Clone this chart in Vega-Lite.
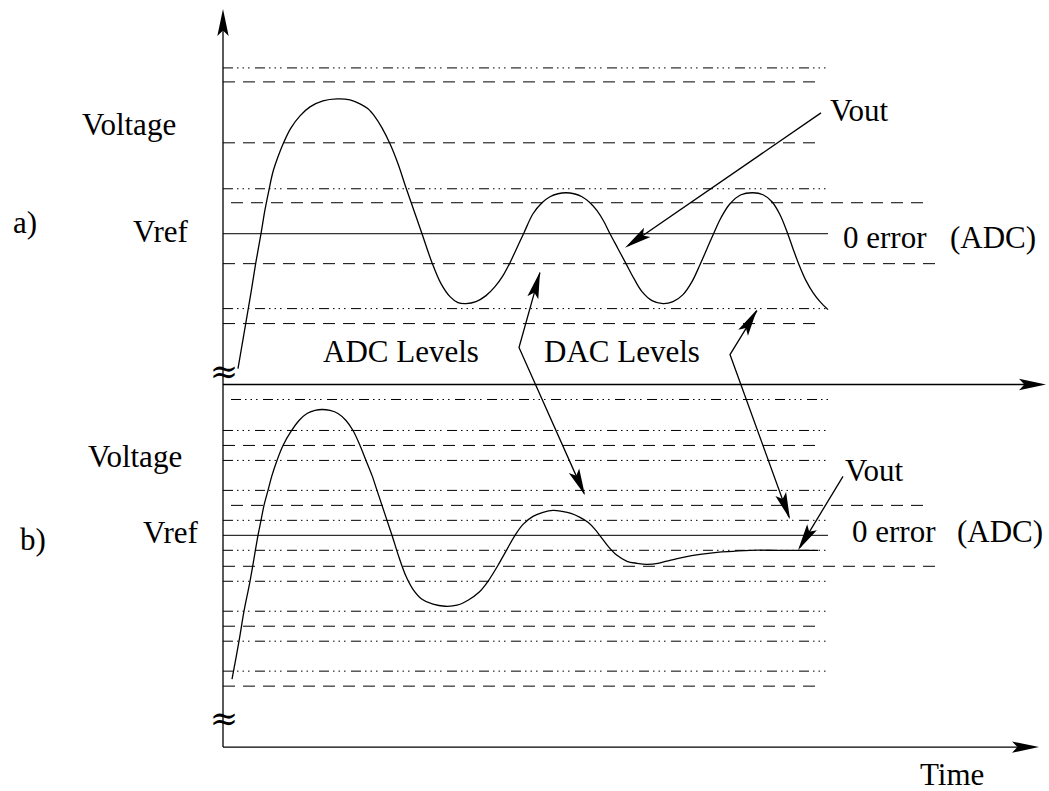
{
  "$schema": "https://vega.github.io/schema/vega-lite/v6.json",
  "width": 1049,
  "height": 791,
  "padding": 0,
  "autosize": {"type": "fit", "contains": "padding"},
  "background": "white",
  "config": {"view": {"stroke": null}},
  "datasets": {
    "levels": [
      {"y": 68, "x1": 223, "x2": 828, "kind": "dac"},
      {"y": 82, "x1": 223, "x2": 820, "kind": "adc"},
      {"y": 143, "x1": 223, "x2": 820, "kind": "adc"},
      {"y": 189, "x1": 223, "x2": 828, "kind": "dac"},
      {"y": 203, "x1": 231, "x2": 930, "kind": "adc"},
      {"y": 234, "x1": 223, "x2": 828, "kind": "ref"},
      {"y": 264, "x1": 223, "x2": 935, "kind": "adc"},
      {"y": 309, "x1": 223, "x2": 828, "kind": "dac"},
      {"y": 324, "x1": 223, "x2": 820, "kind": "adc"},
      {"y": 400, "x1": 231, "x2": 828, "kind": "dac"},
      {"y": 431, "x1": 223, "x2": 828, "kind": "dac"},
      {"y": 446, "x1": 223, "x2": 820, "kind": "adc"},
      {"y": 461, "x1": 223, "x2": 828, "kind": "dac"},
      {"y": 491, "x1": 223, "x2": 828, "kind": "dac"},
      {"y": 506, "x1": 231, "x2": 930, "kind": "adc"},
      {"y": 521, "x1": 223, "x2": 828, "kind": "dac"},
      {"y": 536, "x1": 223, "x2": 828, "kind": "ref"},
      {"y": 551, "x1": 223, "x2": 828, "kind": "dac"},
      {"y": 567, "x1": 223, "x2": 935, "kind": "adc"},
      {"y": 582, "x1": 223, "x2": 828, "kind": "dac"},
      {"y": 612, "x1": 223, "x2": 828, "kind": "dac"},
      {"y": 627, "x1": 223, "x2": 820, "kind": "adc"},
      {"y": 642, "x1": 223, "x2": 828, "kind": "dac"},
      {"y": 672, "x1": 223, "x2": 828, "kind": "dac"},
      {"y": 687, "x1": 223, "x2": 820, "kind": "adc"}
    ],
    "vout": [
      {"panel": "a", "i": 0, "x": 238, "y": 369}, {"panel": "a", "i": 1, "x": 244, "y": 334},
      {"panel": "a", "i": 2, "x": 251, "y": 293}, {"panel": "a", "i": 3, "x": 256, "y": 262},
      {"panel": "a", "i": 4, "x": 261, "y": 234}, {"panel": "a", "i": 5, "x": 265, "y": 210},
      {"panel": "a", "i": 6, "x": 269, "y": 190}, {"panel": "a", "i": 7, "x": 273, "y": 172},
      {"panel": "a", "i": 8, "x": 278, "y": 157}, {"panel": "a", "i": 9, "x": 284, "y": 142},
      {"panel": "a", "i": 10, "x": 291, "y": 128}, {"panel": "a", "i": 11, "x": 300, "y": 116},
      {"panel": "a", "i": 12, "x": 310, "y": 107}, {"panel": "a", "i": 13, "x": 323, "y": 101},
      {"panel": "a", "i": 14, "x": 337, "y": 99}, {"panel": "a", "i": 15, "x": 350, "y": 100},
      {"panel": "a", "i": 16, "x": 360, "y": 104}, {"panel": "a", "i": 17, "x": 368, "y": 109},
      {"panel": "a", "i": 18, "x": 375, "y": 117}, {"panel": "a", "i": 19, "x": 382, "y": 128},
      {"panel": "a", "i": 20, "x": 390, "y": 144}, {"panel": "a", "i": 21, "x": 398, "y": 164},
      {"panel": "a", "i": 22, "x": 406, "y": 188}, {"panel": "a", "i": 23, "x": 414, "y": 211},
      {"panel": "a", "i": 24, "x": 422, "y": 234}, {"panel": "a", "i": 25, "x": 432, "y": 263},
      {"panel": "a", "i": 26, "x": 441, "y": 284}, {"panel": "a", "i": 27, "x": 450, "y": 297},
      {"panel": "a", "i": 28, "x": 458, "y": 303}, {"panel": "a", "i": 29, "x": 466, "y": 304},
      {"panel": "a", "i": 30, "x": 476, "y": 302}, {"panel": "a", "i": 31, "x": 486, "y": 296},
      {"panel": "a", "i": 32, "x": 495, "y": 287}, {"panel": "a", "i": 33, "x": 503, "y": 276},
      {"panel": "a", "i": 34, "x": 510, "y": 263}, {"panel": "a", "i": 35, "x": 517, "y": 248},
      {"panel": "a", "i": 36, "x": 524, "y": 233}, {"panel": "a", "i": 37, "x": 533, "y": 214},
      {"panel": "a", "i": 38, "x": 542, "y": 203}, {"panel": "a", "i": 39, "x": 550, "y": 197},
      {"panel": "a", "i": 40, "x": 558, "y": 194}, {"panel": "a", "i": 41, "x": 566, "y": 193},
      {"panel": "a", "i": 42, "x": 574, "y": 194}, {"panel": "a", "i": 43, "x": 582, "y": 197},
      {"panel": "a", "i": 44, "x": 590, "y": 203}, {"panel": "a", "i": 45, "x": 597, "y": 211},
      {"panel": "a", "i": 46, "x": 604, "y": 222}, {"panel": "a", "i": 47, "x": 610, "y": 234},
      {"panel": "a", "i": 48, "x": 618, "y": 249}, {"panel": "a", "i": 49, "x": 626, "y": 264},
      {"panel": "a", "i": 50, "x": 634, "y": 279}, {"panel": "a", "i": 51, "x": 642, "y": 292},
      {"panel": "a", "i": 52, "x": 652, "y": 301}, {"panel": "a", "i": 53, "x": 663, "y": 304},
      {"panel": "a", "i": 54, "x": 673, "y": 302}, {"panel": "a", "i": 55, "x": 683, "y": 295},
      {"panel": "a", "i": 56, "x": 692, "y": 282}, {"panel": "a", "i": 57, "x": 700, "y": 265},
      {"panel": "a", "i": 58, "x": 707, "y": 249}, {"panel": "a", "i": 59, "x": 714, "y": 233},
      {"panel": "a", "i": 60, "x": 721, "y": 218}, {"panel": "a", "i": 61, "x": 730, "y": 204},
      {"panel": "a", "i": 62, "x": 741, "y": 195}, {"panel": "a", "i": 63, "x": 753, "y": 193},
      {"panel": "a", "i": 64, "x": 763, "y": 195}, {"panel": "a", "i": 65, "x": 772, "y": 202},
      {"panel": "a", "i": 66, "x": 780, "y": 215}, {"panel": "a", "i": 67, "x": 787, "y": 232},
      {"panel": "a", "i": 68, "x": 793, "y": 249}, {"panel": "a", "i": 69, "x": 799, "y": 265},
      {"panel": "a", "i": 70, "x": 806, "y": 281}, {"panel": "a", "i": 71, "x": 813, "y": 293},
      {"panel": "a", "i": 72, "x": 820, "y": 302}, {"panel": "a", "i": 73, "x": 828, "y": 310},
      {"panel": "b", "i": 0, "x": 232, "y": 680}, {"panel": "b", "i": 1, "x": 239, "y": 642},
      {"panel": "b", "i": 2, "x": 244, "y": 612}, {"panel": "b", "i": 3, "x": 250, "y": 582},
      {"panel": "b", "i": 4, "x": 258, "y": 536}, {"panel": "b", "i": 5, "x": 261, "y": 521},
      {"panel": "b", "i": 6, "x": 264, "y": 506}, {"panel": "b", "i": 7, "x": 268, "y": 491},
      {"panel": "b", "i": 8, "x": 272, "y": 476}, {"panel": "b", "i": 9, "x": 277, "y": 461},
      {"panel": "b", "i": 10, "x": 283, "y": 446}, {"panel": "b", "i": 11, "x": 291, "y": 432},
      {"panel": "b", "i": 12, "x": 299, "y": 421}, {"panel": "b", "i": 13, "x": 307, "y": 414},
      {"panel": "b", "i": 14, "x": 315, "y": 411}, {"panel": "b", "i": 15, "x": 322, "y": 410},
      {"panel": "b", "i": 16, "x": 330, "y": 411}, {"panel": "b", "i": 17, "x": 338, "y": 414},
      {"panel": "b", "i": 18, "x": 346, "y": 421}, {"panel": "b", "i": 19, "x": 353, "y": 431},
      {"panel": "b", "i": 20, "x": 360, "y": 446}, {"panel": "b", "i": 21, "x": 366, "y": 461},
      {"panel": "b", "i": 22, "x": 372, "y": 476}, {"panel": "b", "i": 23, "x": 377, "y": 491},
      {"panel": "b", "i": 24, "x": 382, "y": 506}, {"panel": "b", "i": 25, "x": 387, "y": 521},
      {"panel": "b", "i": 26, "x": 392, "y": 536}, {"panel": "b", "i": 27, "x": 399, "y": 558},
      {"panel": "b", "i": 28, "x": 406, "y": 577}, {"panel": "b", "i": 29, "x": 413, "y": 590},
      {"panel": "b", "i": 30, "x": 422, "y": 600}, {"panel": "b", "i": 31, "x": 433, "y": 605},
      {"panel": "b", "i": 32, "x": 445, "y": 607}, {"panel": "b", "i": 33, "x": 457, "y": 606},
      {"panel": "b", "i": 34, "x": 468, "y": 601}, {"panel": "b", "i": 35, "x": 479, "y": 593},
      {"panel": "b", "i": 36, "x": 488, "y": 582}, {"panel": "b", "i": 37, "x": 498, "y": 566},
      {"panel": "b", "i": 38, "x": 507, "y": 550}, {"panel": "b", "i": 39, "x": 515, "y": 536},
      {"panel": "b", "i": 40, "x": 523, "y": 525}, {"panel": "b", "i": 41, "x": 533, "y": 517},
      {"panel": "b", "i": 42, "x": 543, "y": 513}, {"panel": "b", "i": 43, "x": 553, "y": 511},
      {"panel": "b", "i": 44, "x": 562, "y": 512}, {"panel": "b", "i": 45, "x": 571, "y": 514},
      {"panel": "b", "i": 46, "x": 580, "y": 518}, {"panel": "b", "i": 47, "x": 588, "y": 523},
      {"panel": "b", "i": 48, "x": 595, "y": 530}, {"panel": "b", "i": 49, "x": 602, "y": 539},
      {"panel": "b", "i": 50, "x": 609, "y": 548}, {"panel": "b", "i": 51, "x": 617, "y": 556},
      {"panel": "b", "i": 52, "x": 627, "y": 562}, {"panel": "b", "i": 53, "x": 637, "y": 564},
      {"panel": "b", "i": 54, "x": 647, "y": 565}, {"panel": "b", "i": 55, "x": 658, "y": 564},
      {"panel": "b", "i": 56, "x": 670, "y": 561}, {"panel": "b", "i": 57, "x": 683, "y": 558},
      {"panel": "b", "i": 58, "x": 700, "y": 555}, {"panel": "b", "i": 59, "x": 717, "y": 553},
      {"panel": "b", "i": 60, "x": 733, "y": 552}, {"panel": "b", "i": 61, "x": 750, "y": 551},
      {"panel": "b", "i": 62, "x": 775, "y": 551}, {"panel": "b", "i": 63, "x": 800, "y": 551},
      {"panel": "b", "i": 64, "x": 818, "y": 551}
    ],
    "strokes": [
      {"id": "v-axis", "k": 0, "x": 223, "y": 14}, {"id": "v-axis", "k": 1, "x": 223, "y": 748},
      {"id": "t-axis-a", "k": 0, "x": 223, "y": 385}, {"id": "t-axis-a", "k": 1, "x": 1030, "y": 385},
      {"id": "t-axis-b", "k": 0, "x": 223, "y": 748}, {"id": "t-axis-b", "k": 1, "x": 1023, "y": 748},
      {"id": "vout-a", "k": 0, "x": 821, "y": 113}, {"id": "vout-a", "k": 1, "x": 628, "y": 246},
      {"id": "adc", "k": 0, "x": 540, "y": 273}, {"id": "adc", "k": 1, "x": 519, "y": 348}, {"id": "adc", "k": 2, "x": 584, "y": 494},
      {"id": "dac", "k": 0, "x": 757, "y": 311}, {"id": "dac", "k": 1, "x": 730, "y": 355}, {"id": "dac", "k": 2, "x": 789, "y": 518},
      {"id": "vout-b", "k": 0, "x": 843, "y": 477}, {"id": "vout-b", "k": 1, "x": 800, "y": 548}
    ],
    "heads": [
      {"x": 223, "y": 9, "heading": 0},
      {"x": 1046, "y": 385, "heading": 90},
      {"x": 1039, "y": 748, "heading": 90},
      {"x": 625, "y": 248, "heading": -124.6},
      {"x": 540, "y": 272, "heading": 15.4},
      {"x": 585, "y": 496, "heading": 156},
      {"x": 757, "y": 310, "heading": 31},
      {"x": 790, "y": 520, "heading": 160},
      {"x": 798, "y": 551, "heading": -148.7}
    ],
    "labels": [
      {"x": 82, "y": 135, "text": "Voltage"},
      {"x": 13, "y": 233, "text": "a)"},
      {"x": 133, "y": 242, "text": "Vref"},
      {"x": 830, "y": 121, "text": "Vout"},
      {"x": 843, "y": 248, "text": "0 error"},
      {"x": 950, "y": 248, "text": "(ADC)"},
      {"x": 323, "y": 362, "text": "ADC Levels"},
      {"x": 544, "y": 362, "text": "DAC Levels"},
      {"x": 88, "y": 468, "text": "Voltage"},
      {"x": 20, "y": 551, "text": "b)"},
      {"x": 143, "y": 544, "text": "Vref"},
      {"x": 845, "y": 482, "text": "Vout"},
      {"x": 852, "y": 543, "text": "0 error"},
      {"x": 957, "y": 543, "text": "(ADC)"},
      {"x": 920, "y": 786, "text": "Time"}
    ],
    "breaks": [
      {"x": 224, "y": 373, "text": "≈"},
      {"x": 224, "y": 721, "text": "≈"}
    ]
  },
  "encoding": {
    "x": {"field": "x", "type": "quantitative", "axis": null, "scale": {"domain": [0, 1049], "nice": false, "zero": false}},
    "y": {"field": "y", "type": "quantitative", "axis": null, "scale": {"domain": [0, 791], "nice": false, "zero": false, "reverse": true}}
  },
  "layer": [
    {
      "data": {"name": "levels"},
      "mark": {"type": "rule", "color": "black", "strokeWidth": 1},
      "encoding": {
        "x": {"field": "x1", "type": "quantitative", "axis": null, "scale": {"domain": [0, 1049], "nice": false, "zero": false}},
        "x2": {"field": "x2"},
        "strokeDash": {
          "field": "kind",
          "type": "nominal",
          "legend": null,
          "scale": {
            "domain": ["ref", "adc", "dac"],
            "range": [[1, 0], [12, 8], [10, 4, 1.5, 4, 1.5, 4, 1.5, 5.5]]
          }
        }
      }
    },
    {
      "data": {"name": "vout"},
      "mark": {"type": "line", "color": "black", "strokeWidth": 1.3, "interpolate": "catmull-rom"},
      "encoding": {
        "detail": {"field": "panel"},
        "order": {"field": "i", "type": "quantitative"}
      }
    },
    {
      "data": {"name": "strokes"},
      "mark": {"type": "line", "color": "black", "strokeWidth": 1.3},
      "encoding": {
        "detail": {"field": "id"},
        "order": {"field": "k", "type": "quantitative"}
      }
    },
    {
      "data": {"name": "heads"},
      "mark": {
        "type": "point",
        "shape": "M0,0 L0.21,1 L0,0.8 L-0.21,1 Z",
        "filled": true,
        "color": "black",
        "opacity": 1,
        "size": 2916,
        "strokeWidth": 0
      },
      "encoding": {
        "angle": {"field": "heading", "type": "quantitative", "scale": null}
      }
    },
    {
      "data": {"name": "labels"},
      "mark": {"type": "text", "align": "left", "baseline": "alphabetic", "font": "Liberation Serif", "fontSize": 31, "color": "black"},
      "encoding": {"text": {"field": "text"}}
    },
    {
      "data": {"name": "breaks"},
      "mark": {"type": "text", "align": "center", "baseline": "middle", "font": "DejaVu Serif", "fontSize": 34, "color": "black"},
      "encoding": {"text": {"field": "text"}}
    }
  ]
}
